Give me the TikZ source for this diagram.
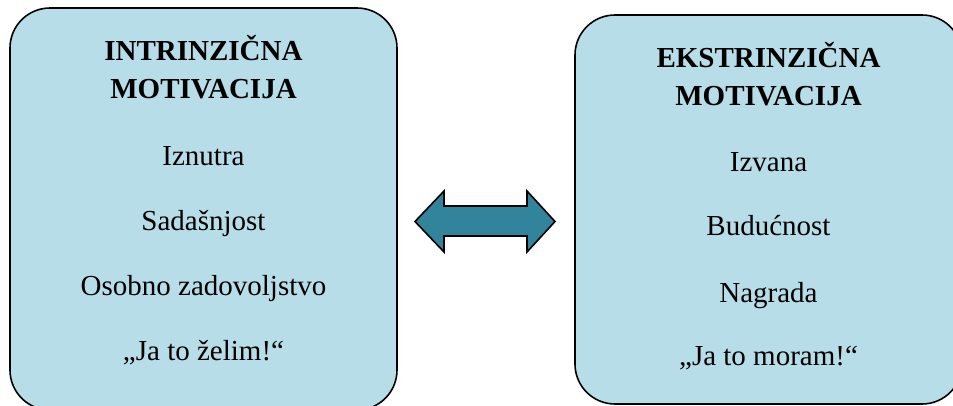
\documentclass[tikz,border=0pt]{standalone}
\usepackage{fontspec}
\setmainfont{Liberation Serif}
\usepackage{tikz}
\definecolor{boxblue}{RGB}{183,222,232}
\definecolor{arrowteal}{RGB}{49,132,155}
\tikzset{
  motivbox/.style={rectangle,rounded corners=40pt,draw=black,line width=1.6pt,fill=boxblue,minimum width=387pt,inner sep=0pt},
  motivtitle/.style={anchor=base,font=\fontsize{29}{34}\selectfont\bfseries},
  motivitem/.style={anchor=base,font=\fontsize{29}{34}\selectfont}
}
\begin{document}
\begin{tikzpicture}[x=1pt,y=-1pt]
\useasboundingbox (0,0) rectangle (953,405);
\clip (0,0) rectangle (953,405);
%Boxes
\node at (203.5,209) [motivbox,minimum height=402pt] (Intr) {};
\node at (768.5,209.5) [motivbox,minimum height=389pt] (Ekstr) {};
%Left Labels
\node at (203.5,60) [motivtitle] (IntrA) {INTRINZIČNA};
\node at (203.5,98) [motivtitle] (IntrB) {MOTIVACIJA};
\node at (203.5,165) [motivitem] (Intr1) {Iznutra};
\node at (203.5,230) [motivitem] (Intr2) {Sadašnjost};
\node at (203.5,295) [motivitem] (Intr3) {Osobno zadovoljstvo};
\node at (203.5,360) [motivitem] (Intr4) {„Ja to želim!“};
%Right Labels
\node at (768.5,67) [motivtitle] (EkstrA) {EKSTRINZIČNA};
\node at (768.5,105) [motivtitle] (EkstrB) {MOTIVACIJA};
\node at (768.5,171) [motivitem] (Ekstr1) {Izvana};
\node at (768.5,235) [motivitem] (Ekstr2) {Budućnost};
\node at (768.5,302) [motivitem] (Ekstr3) {Nagrada};
\node at (768.5,365) [motivitem] (Ekstr4) {„Ja to moram!“};
%Double Arrow
\draw [line width=1.6pt,fill=arrowteal,line join=miter] (415,221.5) -- (444,191) -- (444,206) -- (527,206) -- (527,191) -- (555,221.5)
  -- (527,252) -- (527,236) -- (444,236) -- (444,252) -- cycle;
\end{tikzpicture}
\end{document}
